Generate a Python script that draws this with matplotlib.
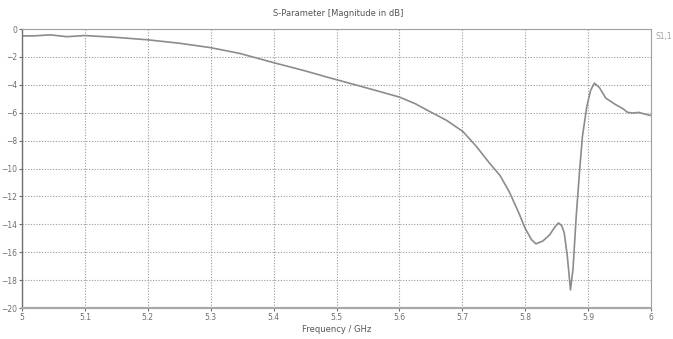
import matplotlib.pyplot as plt
from matplotlib.ticker import FixedLocator

FREQ_GHZ = [
    5.000, 5.020, 5.045, 5.071, 5.100, 5.150, 5.201, 5.250, 5.299, 5.346,
    5.399, 5.450, 5.489, 5.530, 5.570, 5.600, 5.625, 5.648, 5.675, 5.701,
    5.722, 5.743, 5.760, 5.775, 5.790, 5.800, 5.810, 5.817, 5.828, 5.839,
    5.847, 5.853, 5.858, 5.862, 5.867, 5.872, 5.876, 5.881, 5.887, 5.891,
    5.898, 5.904, 5.910, 5.918, 5.928, 5.944, 5.955, 5.963, 5.972, 5.981,
    5.990, 6.000,
]
S11_DB = [
    -0.50, -0.49, -0.42, -0.55, -0.47, -0.60, -0.78, -1.02, -1.33, -1.75,
    -2.40, -3.00, -3.50, -4.00, -4.50, -4.88, -5.35, -5.91, -6.55, -7.35,
    -8.40, -9.60, -10.50, -11.70, -13.20, -14.30, -15.10, -15.40, -15.20, -14.75,
    -14.20, -13.90, -14.10, -14.60, -16.30, -18.70, -17.20, -13.50, -9.85, -7.70,
    -5.55, -4.40, -3.88, -4.20, -4.95, -5.43, -5.70, -5.98, -6.02, -5.98,
    -6.10, -6.20,
]
X_TICKS = [5.0, 5.1, 5.2, 5.3, 5.4, 5.5, 5.6, 5.7, 5.8, 5.9, 6.0]
X_TICK_LABELS = ["5", "5.1", "5.2", "5.3", "5.4", "5.5", "5.6", "5.7", "5.8", "5.9", "6"]
Y_TICKS = list(range(0, -22, -2))

TEXT_GREY = "#6e6e6e"

fig = plt.figure(figsize=(6.73, 3.39), dpi=100)
ax = fig.add_axes([22 / 673, 1 - 308 / 339, (651 - 22) / 673, (308 - 29) / 339])

ax.plot(FREQ_GHZ, S11_DB, color="#8c8c8c", linewidth=1.2)

ax.set_xlim(5.0, 6.0)
ax.set_ylim(-20, 0)
ax.xaxis.set_major_locator(FixedLocator(X_TICKS))
ax.set_xticklabels(X_TICK_LABELS)
ax.yaxis.set_major_locator(FixedLocator(Y_TICKS))
ax.tick_params(labelsize=5.5, colors=TEXT_GREY, length=2, width=0.8, pad=1.5)

ax.grid(True, color="#9a9a9a", linestyle=(0, (1, 1.5)), linewidth=0.8)
ax.set_axisbelow(True)

for side in ["top", "right"]:
    ax.spines[side].set_color("#a0a0a0")
    ax.spines[side].set_linewidth(0.8)
ax.spines["left"].set_color("#707070")
ax.spines["left"].set_linewidth(1.0)
ax.spines["bottom"].set_color("#a8a8a8")
ax.spines["bottom"].set_linewidth(1.6)

fig.text(338 / 673, 1 - 13 / 339, "S-Parameter [Magnitude in dB]",
         ha="center", va="center", fontsize=6, color="#555555")
fig.text(337 / 673, 1 - 329 / 339, "Frequency / GHz",
         ha="center", va="center", fontsize=6, color="#555555")
fig.text(656 / 673, 1 - 36 / 339, "S1,1",
         ha="left", va="center", fontsize=5.5, color="#a0a0a0")

fig.savefig("out.png", dpi=100)
